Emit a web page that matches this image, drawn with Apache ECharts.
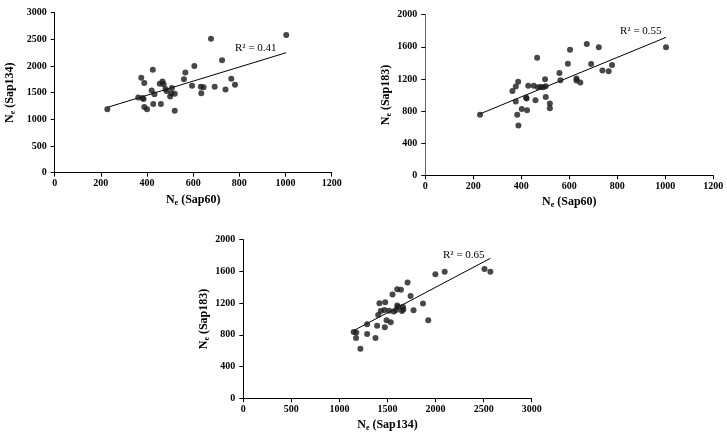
<!DOCTYPE html>
<html><head><meta charset="utf-8">
<script src="https://cdn.jsdelivr.net/npm/echarts@6/dist/echarts.min.js"></script>
<style>html,body{margin:0;padding:0;background:#fff}#c{width:727px;height:434px}</style>
</head><body><div id="c"></div>
<script>
// Plot 1: Ne(Sap60) vs Ne(Sap134)
const p1X = [228, 677, 1003, 725, 605, 425, 375, 388, 566, 560, 765, 781, 740, 693, 633, 645, 635, 595, 455, 467, 472, 420, 480, 485, 508, 520, 500, 505, 432, 362, 380, 385, 427, 460, 388, 400, 520];
const p1Y = [1190, 2510, 2580, 2110, 2000, 1930, 1780, 1680, 1880, 1750, 1760, 1650, 1560, 1610, 1610, 1600, 1490, 1630, 1670, 1710, 1660, 1540, 1570, 1530, 1590, 1480, 1430, 1490, 1470, 1410, 1400, 1380, 1290, 1290, 1230, 1190, 1160];
const trend1X = [228, 1003];
const trend1Y = [1225, 2250];
// Plot 2: Ne(Sap60) vs Ne(Sap183)
const p2X = [228, 1003, 673, 723, 603, 466, 594, 691, 778, 738, 764, 559, 563, 630, 630, 646, 499, 387, 377, 363, 429, 452, 469, 480, 491, 502, 420, 422, 459, 502, 377, 519, 519, 402, 424, 383, 388];
const p2Y = [755, 1595, 1635, 1595, 1565, 1465, 1390, 1385, 1375, 1305, 1295, 1275, 1185, 1205, 1180, 1155, 1195, 1165, 1105, 1050, 1115, 1115, 1095, 1100, 1095, 1110, 970, 955, 935, 975, 920, 895, 835, 825, 810, 755, 620];
const trend2X = [228, 1003];
const trend2Y = [765, 1718];
// Plot 3: Ne(Sap134) vs Ne(Sap183)
const p3X = [2509, 2570, 2095, 1998, 1709, 1601, 1640, 1740, 1552, 1416, 1476, 1869, 1601, 1611, 1660, 1771, 1430, 1468, 1517, 1565, 1590, 1650, 1665, 1403, 1490, 1534, 1924, 1392, 1472, 1288, 1148, 1175, 1288, 1173, 1375, 1218];
const p3Y = [1630, 1595, 1595, 1565, 1460, 1375, 1370, 1290, 1310, 1200, 1210, 1195, 1170, 1150, 1155, 1110, 1100, 1115, 1105, 1095, 1115, 1100, 1120, 1050, 985, 960, 985, 915, 895, 935, 835, 830, 810, 760, 760, 625];
const trend3X = [1150, 2570];
const trend3Y = [855, 1765];

const xTitles = ['N{s|e} (Sap60)', 'N{s|e} (Sap60)', 'N{s|e} (Sap134)'];
const yTitles = ['N{s|e} (Sap134)', 'N{s|e} (Sap183)', 'N{s|e} (Sap183)'];
const r2Labels = ['R\u00B2 = 0.41', 'R\u00B2 = 0.55', 'R\u00B2 = 0.65'];
const xRanges = [[0, 1200, 200], [0, 1200, 200], [0, 3000, 500]];
const yRanges = [[0, 3000, 500], [0, 2000, 400], [0, 2000, 400]];

const FF = '"Liberation Serif","Times New Roman",serif';
const grids = [
  {left: 54.7, top: 12.7, width: 277, height: 160},
  {left: 425.3, top: 14.7, width: 288, height: 160.6},
  {left: 243.3, top: 239.7, width: 288.4, height: 158.6}
];
const yNameGaps = [38, 32, 31];
const yAxisColors = ['#000', '#666', '#000'];
const r2Pos = [[235, 43], [620, 26], [443, 250]];

const nameStyle = {
  fontFamily: FF, fontWeight: 'bold', fontSize: 12, color: '#000',
  rich: { s: { fontFamily: FF, fontWeight: 'bold', fontSize: 8, color: '#000', padding: [6, 0, 0, 0] } }
};
const labelStyle = { fontFamily: FF, fontWeight: 'bold', fontSize: 10, color: '#000', formatter: v => String(v) };

const zip = (a, b) => a.map((v, i) => [v, b[i]]);
const pts = [zip(p1X, p1Y), zip(p2X, p2Y), zip(p3X, p3Y)];
const trends = [zip(trend1X, trend1Y), zip(trend2X, trend2Y), zip(trend3X, trend3Y)];

const option = {
  backgroundColor: '#fff',
  animation: false,
  grid: grids.map(g => Object.assign({containLabel: false, outerBoundsMode: 'none'}, g)),
  xAxis: grids.map((g, i) => ({
    type: 'value', gridIndex: i, min: xRanges[i][0], max: xRanges[i][1], interval: xRanges[i][2],
    axisLine: {show: true, onZero: false, lineStyle: {color: '#000', width: 1}},
    axisTick: {show: true, length: 4, lineStyle: {color: '#000'}},
    axisLabel: Object.assign({margin: 6}, labelStyle),
    splitLine: {show: false},
    name: xTitles[i], nameLocation: 'middle', nameGap: 20, nameTextStyle: nameStyle
  })),
  yAxis: grids.map((g, i) => ({
    type: 'value', gridIndex: i, min: yRanges[i][0], max: yRanges[i][1], interval: yRanges[i][2],
    axisLine: {show: true, onZero: false, lineStyle: {color: yAxisColors[i], width: 1}},
    axisTick: {show: true, length: 4, lineStyle: {color: '#000'}},
    axisLabel: Object.assign({margin: 8}, labelStyle),
    splitLine: {show: false},
    name: yTitles[i], nameLocation: 'middle', nameGap: yNameGaps[i], nameRotate: 90, nameTextStyle: nameStyle
  })),
  series: [].concat(
    pts.map((d, i) => ({
      type: 'scatter', xAxisIndex: i, yAxisIndex: i, data: d, symbolSize: 6,
      itemStyle: {color: '#1a1a1a'}, silent: true
    })),
    trends.map((d, i) => ({
      type: 'line', xAxisIndex: i, yAxisIndex: i, data: d, symbol: 'none',
      lineStyle: {color: '#000', width: 1}, silent: true, z: 1
    }))
  ),
  graphic: r2Pos.map((p, i) => ({
    type: 'text', left: p[0], top: p[1],
    style: {text: r2Labels[i], font: '11px ' + FF, fill: '#000'}
  }))
};
const chart = echarts.init(document.getElementById('c'), null, {renderer: 'canvas'});
chart.setOption(option);
</script>
</body></html>
